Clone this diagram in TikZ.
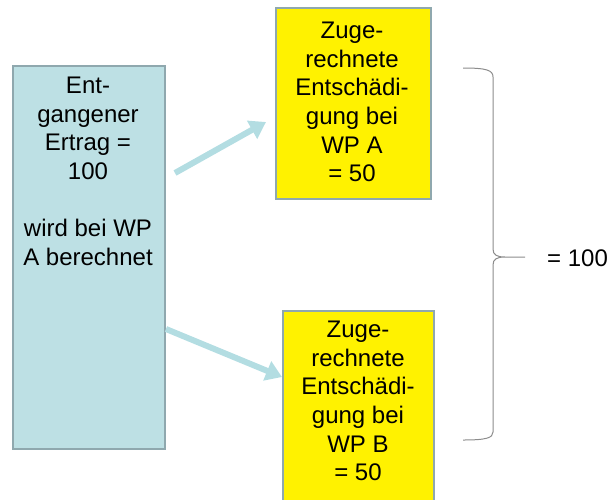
\documentclass[tikz,border=0pt]{standalone}
\usepackage{fontspec}
\setmainfont{Liberation Sans}
\usetikzlibrary{arrows.meta}
\definecolor{boxline}{HTML}{8FA8AE}
\definecolor{tealfill}{HTML}{BDE0E4}
\definecolor{arrowcol}{HTML}{B3DDE2}
\definecolor{bracecol}{HTML}{8C8C8C}
\tikzset{
  box/.style={draw=boxline, line width=2pt, anchor=north west, inner sep=0pt, minimum width=#1},
  txt/.style={anchor=north, inner sep=0pt, align=center, font=\fontsize{24}{28.6}\selectfont},
  bigarrow/.style={draw=arrowcol, line width=6pt, -{Triangle[length=16pt, width=20pt]}, shorten >=0pt},
}
\begin{document}
\begin{tikzpicture}[x=1pt,y=-1pt]
\useasboundingbox (0,0) rectangle (612,499);
% left box
\node[box=152pt, fill=tealfill, minimum height=383pt] (L) at (12,65) {};
\node[txt] (Lt) at (88,77) {Ent-\\gangener\\Ertrag =\\100\\[28.6pt]wird bei WP\\A berechnet};
% box A
\node[box=155pt, fill=yellow, minimum height=191pt] (A) at (275,7) {};
\node[txt] (At) at (352,22) {Zuge-\\rechnete\\Entschädi-\\gung bei\\WP A\\= 50};
% box B
\begin{scope}
\clip (0,0) rectangle (612,499);
\node[box=151pt, fill=yellow, minimum height=200pt] (B) at (282,310) {};
\end{scope}
\node[txt] (Bt) at (358,321) {Zuge-\\rechnete\\Entschädi-\\gung bei\\WP B\\= 50};
% arrows
\coordinate (a1s) at (175,173);
\coordinate (a1e) at (266,122);
\coordinate (a2s) at (166,329);
\coordinate (a2e) at (282,377);
\draw[bigarrow] (a1s) -- (a1e);
\draw[bigarrow] (a2s) -- (a2e);
% brace
\coordinate (bt) at (463,68);
\coordinate (bm) at (525,257);
\coordinate (bb) at (463,440);
\draw[bracecol, line width=1pt]
  (bt) .. controls (486,68) and (493,70) .. (493,77)
  -- (493,249) .. controls (493,255) and (497,257) .. (505,257) -- (bm)
  (bm) -- (505,257) .. controls (497,257) and (493,259) .. (493,265)
  -- (493,432) .. controls (493,438) and (486,440) .. (bb);
\node[anchor=west, inner sep=0pt, font=\fontsize{24}{28.6}\selectfont] (res) at (547,258) {= 100};
\end{tikzpicture}
\end{document}
